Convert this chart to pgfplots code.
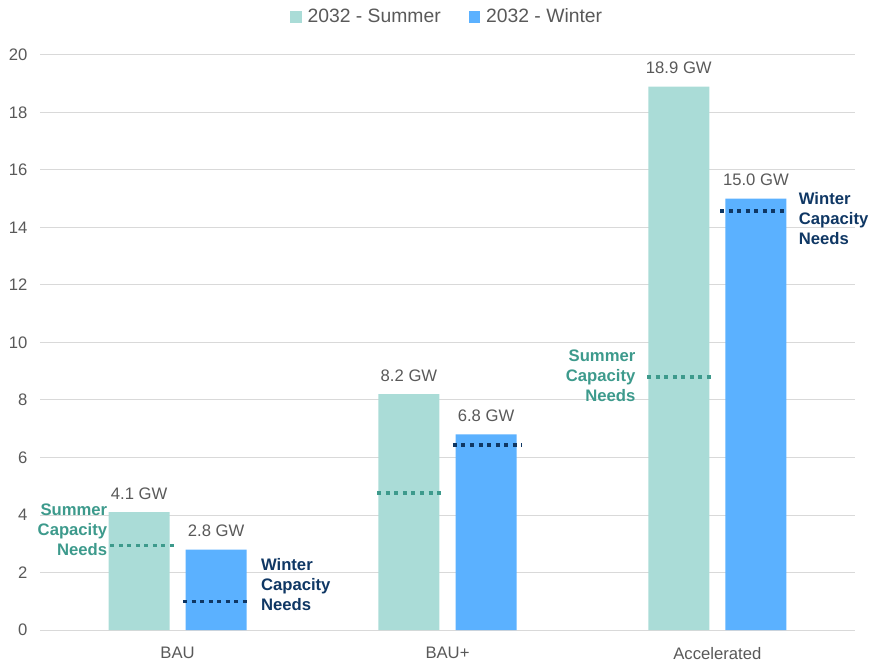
\documentclass[border=0pt]{standalone}
\usepackage{pgfplots}
\pgfplotsset{compat=1.18}
\usepackage{fontspec}
\setmainfont{Liberation Sans}
\definecolor{summer}{HTML}{AADCD7}
\definecolor{winter}{HTML}{5BB1FF}
\definecolor{sumtxt}{HTML}{3D9A8C}
\definecolor{wintxt}{HTML}{0F3764}
\definecolor{txtgray}{HTML}{595959}
\definecolor{gridgray}{HTML}{D9D9D9}
\pgfplotsset{
  sqlegend/.style={legend image code/.code={\fill[##1] (0pt,-4.25pt) rectangle (8.5pt,4.25pt);}},
  sumdot/.style={sharp plot, no markers, forget plot, sumtxt, line width=2.5pt, dash pattern=on 3pt off 3.4pt},
  windot/.style={sharp plot, no markers, forget plot, wintxt, line width=2.5pt, dash pattern=on 3pt off 3.4pt},
  vallab/.style={nodes near coords={\pgfmathprintnumber[fixed,fixed zerofill,precision=1]{\pgfplotspointmeta} GW},
     nodes near coords style={font=\fontsize{12.5}{15}\selectfont, text=txtgray, anchor=south, inner sep=0pt, yshift=9.5pt}},
}
\begin{document}
\begin{tikzpicture}
\path[use as bounding box] (-30pt,-25.5pt) rectangle (625.5pt,472.5pt);
\begin{axis}[
  scale only axis, width=611.25pt, height=431.25pt,
  xmin=-0.51, xmax=2.51, ymin=0, ymax=20,
  ytick={0,2,...,20},
  xtick={0,1,2}, xticklabels={BAU,BAU+,Accelerated},
  ymajorgrids, grid style={gridgray, line width=0.75pt},
  axis line style={draw=none},
  major tick length=0pt,
  tick label style={font=\fontsize{12.5}{15}\selectfont, text=txtgray},
  /pgf/number format/assume math mode=true,
  yticklabel style={xshift=-6pt},
  xticklabel style={yshift=-9.5pt},
  ybar, bar width=45.75pt,
  clip=false,
  legend style={at={(0.5,1)}, anchor=center, yshift=28.5pt, draw=none, fill=none,
    legend columns=2, font=\fontsize{14.5}{17}\selectfont, text=txtgray,
    /tikz/every odd column/.append style={column sep=2.5pt},
    /tikz/every even column/.append style={column sep=19pt}},
]
\addplot[fill=summer, draw=none, bar shift=-28.9pt, sqlegend, vallab] coordinates {(0,4.1) (1,8.2) (2,18.9)};
\addplot[fill=winter, draw=none, bar shift=28.9pt, sqlegend, vallab] coordinates {(0,2.8) (1,6.8) (2,15.0)};
\legend{2032 - Summer, 2032 - Winter}

\addplot[sumdot] coordinates {(-0.25,2.95) (0.0,2.95)};
\addplot[sumdot] coordinates {(0.74,4.77) (0.99,4.77)};
\addplot[sumdot] coordinates {(1.74,8.8) (1.99,8.8)};
\addplot[windot] coordinates {(0.02,1.0) (0.27,1.0)};
\addplot[windot] coordinates {(1.02,6.43) (1.275,6.43)};
\addplot[windot] coordinates {(2.01,14.57) (2.26,14.57)};

\node[anchor=east, align=right, inner sep=0pt, font=\bfseries\fontsize{12.5}{15}\selectfont, text=sumtxt] at (axis cs:-0.26,3.48) {Summer\\Capacity\\Needs};
\node[anchor=west, align=left, inner sep=0pt, font=\bfseries\fontsize{12.5}{15}\selectfont, text=wintxt] at (axis cs:0.308,1.57) {Winter\\Capacity\\Needs};
\node[anchor=east, align=right, inner sep=0pt, font=\bfseries\fontsize{12.5}{15}\selectfont, text=sumtxt] at (axis cs:1.697,8.83) {Summer\\Capacity\\Needs};
\node[anchor=west, align=left, inner sep=0pt, font=\bfseries\fontsize{12.5}{15}\selectfont, text=wintxt] at (axis cs:2.301,14.30) {Winter\\Capacity\\Needs};
\end{axis}
\end{tikzpicture}
\end{document}
